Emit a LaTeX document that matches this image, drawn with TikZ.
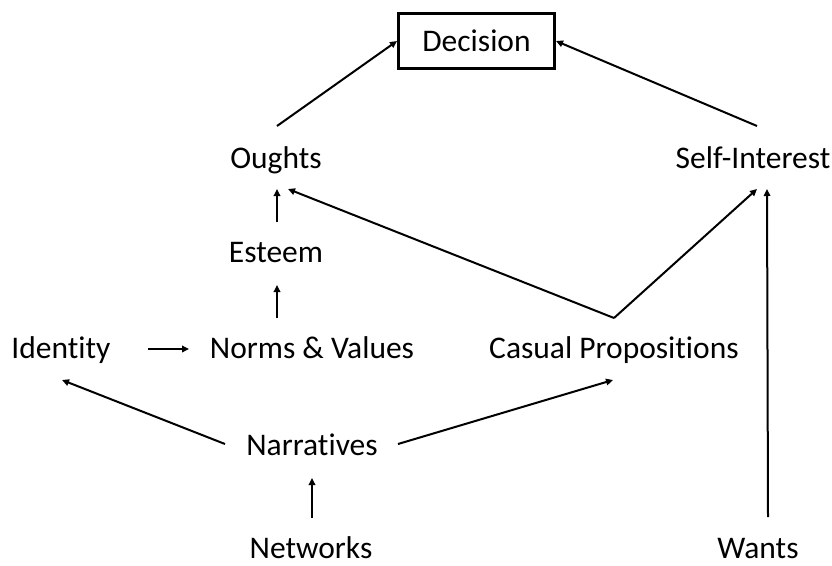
\documentclass[tikz,border=0pt]{standalone}
\usepackage{fontspec}
\setmainfont{Carlito}[Ligatures=CommonOff]
\usetikzlibrary{arrows.meta,calc}
\begin{document}
\begin{tikzpicture}[x=1pt,y=-1pt,
  lbl/.style={font=\fontsize{31.5}{36}\selectfont, inner sep=0pt, anchor=base},
  arr/.style={line width=2pt, -{Triangle[length=7pt,width=6.5pt]}},
  ]
\useasboundingbox (0,0) rectangle (832,565);

% decision box
\node[font=\fontsize{31.5}{36}\selectfont, draw, line width=3pt, inner sep=0pt,
      minimum width=156pt, minimum height=55pt] (decision) at (476.5,41) {Decision};

% factors
\node[lbl] (oughts)   at (276,168) {Oughts};
\node[lbl] (selfint)  at (753,168) {Self-Interest};
\node[lbl] (esteem)   at (276,262) {Esteem};
\node[lbl] (identity) at (61,358)  {Identity};
\node[lbl] (norms)    at (312,358) {Norms \& Values};
\node[lbl] (casual)   at (614,358) {Casual Propositions};
\node[lbl] (narr)     at (312,455) {Narratives};
\node[lbl] (networks) at (311,558) {Networks};
\node[lbl] (wants)    at (758,558) {Wants};

% influences
\draw[arr] ($(oughts.base)+(1,-42)$) -- (decision.west);
\draw[arr] ($(selfint.base)+(4,-42)$) -- (decision.east);
\draw[arr] ($(esteem.base)+(1,-40)$) -- ($(oughts.base)+(1,21)$);
\draw[arr] ($(norms.base)+(-35,-40)$) -- ($(esteem.base)+(1,23)$);
\draw[arr] ($(casual.base)+(0,-40)$) -- ($(oughts.base)+(12,21)$);
\draw[arr] ($(casual.base)+(0,-40)$) -- ($(selfint.base)+(4,21)$);
\draw[arr] ($(wants.base)+(10,-41)$) -- ($(selfint.base)+(14,21)$);
\draw[arr] ($(identity.base)+(87,-9)$) -- ($(identity.base)+(128,-9)$);
\draw[arr] ($(narr.base)+(-87,-11)$) -- ($(identity.base)+(1,22)$);
\draw[arr] ($(narr.base)+(86,-11)$) -- ($(casual.base)+(-1,22)$);
\draw[arr] ($(networks.base)+(1,-40)$) -- ($(narr.base)+(0,23)$);
\end{tikzpicture}
\end{document}
